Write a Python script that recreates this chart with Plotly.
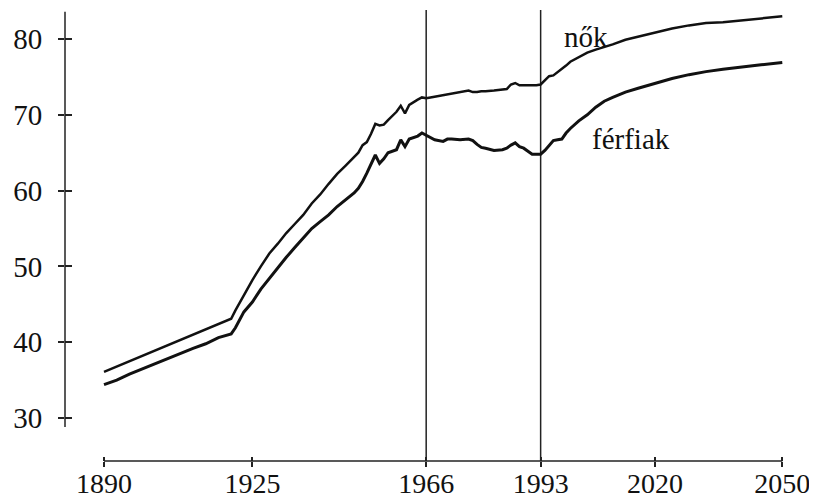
import plotly.graph_objects as go

years = [1890, 1893, 1896, 1899, 1902, 1905, 1908, 1911, 1914, 1917, 1920, 1921, 1923, 1925, 1927,
         1929, 1931, 1933, 1935, 1937, 1939, 1941, 1943, 1945, 1947, 1949, 1950, 1951, 1952, 1953,
         1954, 1955, 1956, 1957, 1958, 1959, 1960, 1961, 1962, 1963, 1964, 1965, 1966, 1967, 1968,
         1970, 1971, 1972, 1974, 1976, 1977, 1978, 1979, 1980, 1982, 1984, 1985, 1986, 1987, 1988,
         1989, 1990, 1991, 1992, 1993, 1994, 1995, 1996, 1997, 1998, 1999, 2000, 2002, 2004, 2006,
         2008, 2010, 2013, 2016, 2020, 2024, 2028, 2032, 2036, 2040, 2045, 2050]

nok = [36.1, 36.8, 37.5, 38.2, 38.9, 39.6, 40.2, 40.9, 41.6, 42.3, 43.1, 44.2, 46.3, 48.2, 50.0,
       51.7, 53.0, 54.4, 55.6, 56.8, 58.3, 59.5, 60.9, 62.2, 63.3, 64.5, 65.0, 66.0, 66.4, 67.5,
       68.8, 68.6, 68.7, 69.3, 69.8, 70.4, 71.2, 70.2, 71.3, 71.7, 72.0, 72.3, 72.2, 72.3, 72.4,
       72.5, 72.6, 72.8, 73.0, 73.2, 73.0, 73.0, 73.1, 73.1, 73.2, 73.4, 73.4, 74.0, 74.2, 73.9,
       73.9, 73.9, 73.9, 73.9, 74.0, 74.5, 75.1, 75.2, 75.6, 76.0, 76.5, 77.0, 77.6, 78.2, 78.6,
       78.9, 79.3, 79.9, 80.3, 80.9, 81.4, 81.8, 82.1, 82.2, 82.4, 82.7, 83.0]

ferfiak = [34.4, 35.0, 35.8, 36.5, 37.1, 37.9, 38.6, 39.2, 39.8, 40.6, 41.1, 41.9, 44.0, 45.3, 47.0,
           48.4, 49.9, 51.2, 52.5, 53.7, 55.0, 55.9, 56.8, 57.9, 58.8, 59.7, 60.3, 61.2, 62.3, 63.4,
           64.7, 63.6, 64.2, 65.0, 65.2, 65.4, 66.7, 65.8, 66.8, 67.0, 67.2, 67.6, 67.3, 66.9, 66.7,
           66.5, 66.8, 66.8, 66.7, 66.8, 66.6, 66.1, 65.7, 65.6, 65.3, 65.4, 65.6, 66.0, 66.3, 65.8,
           65.6, 65.2, 64.8, 64.8, 64.8, 65.3, 66.0, 66.6, 66.7, 66.8, 67.6, 68.2, 69.2, 70.0, 71.0,
           71.8, 72.3, 73.0, 73.5, 74.2, 74.8, 75.3, 75.7, 76.0, 76.3, 76.6, 76.9]

x_ticks = [1890, 1925, 1966, 1993, 2020, 2050]
y_ticks = [30, 40, 50, 60, 70, 80]
marker_years = [1966, 1993]
labels = ["nők", "férfiak"]

FONT = "Liberation Serif"
X_RANGE = [1880.8, 2053.0]
Y_RANGE = [24.33, 83.83]

fig = go.Figure()
fig.add_trace(go.Scatter(x=years, y=nok, mode="lines", name=labels[0],
                         line=dict(color="#111111", width=2.5), showlegend=False))
fig.add_trace(go.Scatter(x=years, y=ferfiak, mode="lines", name=labels[1],
                         line=dict(color="#111111", width=3), showlegend=False))
# dummy trace so overlay axes (inner tick halves) are drawn
fig.add_trace(go.Scatter(x=[], y=[], xaxis="x2", yaxis="y2", showlegend=False))

for yr in marker_years:
    fig.add_shape(type="line", xref="x", yref="paper", x0=yr, x1=yr, y0=0, y1=1,
                  line=dict(color="#222222", width=1.5), layer="below")

# detached axis lines
fig.add_shape(type="line", xref="x", yref="paper", x0=x_ticks[0], x1=x_ticks[-1], y0=0, y1=0,
              line=dict(color="#222222", width=1.5))
fig.add_shape(type="line", xref="paper", yref="y", x0=0, x1=0, y0=28.8, y1=83.6,
              line=dict(color="#222222", width=1.5))

fig.add_annotation(x=2003.7, y=80.3, text=labels[0], showarrow=False,
                   font=dict(family=FONT, size=29, color="#111111"))
fig.add_annotation(x=2014.3, y=66.8, text=labels[1], showarrow=False,
                   font=dict(family=FONT, size=29, color="#111111"))

fig.update_layout(
    width=817, height=498,
    margin=dict(l=57, r=30, t=2, b=45, autoexpand=False),
    paper_bgcolor="white", plot_bgcolor="white",
    font=dict(family=FONT, size=28, color="#111111"),
    xaxis=dict(range=X_RANGE, tickvals=x_ticks, ticktext=[str(v) for v in x_ticks],
               showgrid=False, zeroline=False, showline=False, automargin=False,
               ticks="outside", ticklen=5, tickwidth=1.5, tickcolor="#222222",
               ticklabelstandoff=-8, tickfont=dict(family=FONT, size=28)),
    yaxis=dict(range=Y_RANGE, tickvals=y_ticks, ticktext=[str(v) for v in y_ticks],
               showgrid=False, zeroline=False, showline=False, automargin=False,
               ticks="outside", ticklen=6, tickwidth=1.5, tickcolor="#222222",
               ticklabelstandoff=10, tickfont=dict(family=FONT, size=29)),
    xaxis2=dict(range=X_RANGE, overlaying="x", anchor="y2", side="bottom", automargin=False,
                tickvals=x_ticks, showticklabels=False, showgrid=False, zeroline=False,
                showline=False, ticks="inside", ticklen=4, tickwidth=1.5, tickcolor="#222222"),
    yaxis2=dict(range=Y_RANGE, overlaying="y", anchor="x2", side="left", automargin=False,
                tickvals=y_ticks, showticklabels=False, showgrid=False, zeroline=False,
                showline=False, ticks="inside", ticklen=7, tickwidth=1.5, tickcolor="#222222"),
)

fig.write_html("out.html")
